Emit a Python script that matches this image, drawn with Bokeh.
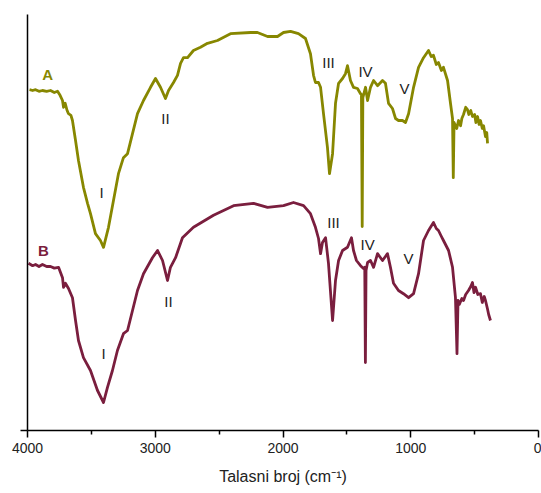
from bokeh.plotting import figure
from bokeh.models import Range1d, FixedTicker, Label
from bokeh.core.properties import value
from bokeh.embed import file_html
from bokeh.resources import INLINE

# Spectrum A (olive)
wn_a = [3984, 3960, 3937, 3910, 3883, 3850, 3820, 3790, 3765, 3745, 3726, 3718, 3705, 3690,
        3679, 3660, 3648, 3624, 3601, 3562, 3530, 3507, 3468, 3429, 3405, 3366, 3327, 3288,
        3249, 3217, 3178, 3139, 3092, 3037, 2998, 2959, 2920, 2896, 2857, 2826, 2802, 2779,
        2747, 2701, 2646, 2591, 2513, 2411, 2254, 2200, 2121, 2043, 1996, 1941, 1879, 1824,
        1785, 1761, 1746, 1722, 1706, 1683, 1652, 1636, 1612, 1589, 1565, 1534, 1511, 1495,
        1472, 1448, 1417, 1393, 1386, 1380, 1375, 1354, 1338, 1315, 1291, 1260, 1221, 1198,
        1174, 1143, 1119, 1096, 1065, 1041, 1017, 978, 939, 900, 861, 840, 822, 800, 783,
        760, 744, 712, 689, 673, 667, 661, 640, 626, 610, 600, 587, 570, 556, 545, 530, 517,
        500, 490, 477, 465, 454, 440, 430, 415, 405, 399]
t_a = [85.2, 85.0, 85.2, 84.8, 85.0, 84.8, 85.0, 84.5, 84.8, 83.8, 82.5, 80.8, 81.8, 80.0,
       79.2, 78.8, 77.5, 72.5, 67.5, 60.8, 56.8, 54.2, 49.2, 47.5, 45.8, 50.8, 57.5, 64.2,
       68.2, 69.2, 74.2, 79.2, 82.5, 85.8, 88.0, 85.8, 83.0, 85.0, 87.0, 88.8, 91.8, 93.2,
       93.2, 95.0, 95.8, 96.8, 97.5, 99.2, 99.5, 99.5, 98.5, 98.5, 99.5, 99.8, 99.2, 98.0,
       94.2, 88.8, 87.0, 87.0, 85.8, 79.2, 70.8, 64.2, 69.2, 81.8, 86.8, 88.0, 89.2, 91.2,
       87.5, 85.8, 85.5, 84.2, 84.0, 51.0, 83.2, 85.8, 82.5, 85.8, 87.5, 86.2, 87.5, 86.8,
       81.8, 80.5, 78.0, 77.5, 77.5, 77.0, 79.2, 85.8, 90.8, 93.2, 95.0, 93.5, 93.8, 91.5, 92.0,
       90.0, 90.8, 87.5, 81.8, 78.0, 63.2, 77.0, 75.5, 77.5, 76.2, 78.0, 79.0, 80.8, 80.2, 79.0,
       80.0, 78.5, 79.0, 77.0, 78.5, 76.5, 77.5, 75.5, 76.2, 73.5, 74.5, 71.8]

# Spectrum B (maroon)
wn_b = [3992, 3960, 3937, 3910, 3883, 3850, 3820, 3790, 3757, 3726, 3718, 3703, 3679, 3648,
        3624, 3601, 3562, 3507, 3452, 3405, 3374, 3335, 3296, 3249, 3217, 3178, 3139, 3092,
        3022, 2982, 2943, 2904, 2881, 2841, 2787, 2701, 2544, 2387, 2231, 2121, 1996, 1918,
        1839, 1785, 1746, 1722, 1706, 1691, 1667, 1644, 1612, 1589, 1565, 1534, 1495, 1464,
        1448, 1425, 1393, 1370, 1360, 1355, 1350, 1338, 1315, 1291, 1260, 1221, 1182, 1159,
        1135, 1096, 1057, 1017, 978, 939, 900, 861, 822, 800, 783, 760, 744, 704, 673, 650,
        638, 630, 620, 600, 587, 570, 548, 530, 517, 505, 493, 475, 454, 440, 425, 415, 400,
        390, 376]
t_b = [41.8, 41.2, 41.5, 41.0, 41.5, 41.0, 41.0, 40.6, 40.8, 38.2, 35.8, 36.8, 35.5, 33.2,
       27.5, 22.5, 18.2, 15.0, 10.0, 7.0, 10.8, 15.0, 20.0, 24.2, 25.0, 30.0, 35.0, 39.2,
       43.2, 45.0, 42.5, 37.5, 40.8, 43.2, 48.2, 50.8, 53.8, 56.2, 56.8, 55.8, 56.2, 57.0,
       56.2, 54.2, 50.8, 48.0, 44.2, 47.0, 48.2, 41.8, 27.5, 37.5, 42.5, 45.0, 45.8, 48.2,
       45.0, 42.5, 41.2, 40.5, 40.8, 17.0, 40.0, 42.0, 42.5, 40.8, 44.2, 42.5, 44.2, 40.8,
       36.8, 35.0, 34.2, 33.2, 34.2, 39.2, 47.5, 50.0, 52.0, 50.5, 50.0, 48.5, 47.5, 45.0,
       40.8, 33.2, 19.2, 32.5, 31.5, 33.0, 32.5, 34.0, 35.0, 36.0, 37.0, 34.5, 35.8, 34.0,
       34.2, 32.0, 33.5, 32.5, 30.5, 29.0, 27.5]

x_ticks = [4000, 3000, 2000, 1000, 0]
x_minor_ticks = [3500, 2500, 1500, 500]
y_ticks = [0]
x_title = "Talasni broj (cm\u207b\u00b9)"

# Series and band labels
series_names = ["A", "B"]
series_name_wn = [3843, 3875]
series_name_t = [89.0, 45.0]
band_text = ["I", "II", "III", "IV", "V", "I", "II", "III", "IV", "V"]
band_wn = [3421, 2920, 1644, 1354, 1049, 3405, 2896, 1605, 1338, 1017]
band_t = [59.5, 78.0, 92.0, 89.8, 85.5, 19.2, 32.2, 52.0, 46.5, 43.0]

COL_A = "#878700"
COL_B = "#7a1e3e"
FONT = "Liberation Sans"

p = figure(width=541, height=493, x_range=Range1d(4000, 0), y_range=Range1d(0, 104),
           output_backend="svg", toolbar_location=None,
           min_border_left=27, min_border_right=3, min_border_top=14, min_border_bottom=63)
p.outline_line_color = None
p.grid.visible = False
p.background_fill_color = "white"
p.border_fill_color = "white"

p.line(wn_a, t_a, line_color=COL_A, line_width=2.8, line_join="round")
p.line(wn_b, t_b, line_color=COL_B, line_width=2.8, line_join="round")

p.text(x=band_wn, y=band_t, text=band_text, text_font=value(FONT), text_font_size="15px",
       text_align="center", text_baseline="middle", text_color="#222222")
p.text(x=series_name_wn, y=series_name_t, text=series_names, text_font=value(FONT),
       text_font_size="15px", text_font_style="bold", text_align="center",
       text_baseline="middle", text_color=[COL_A, COL_B])

xa = p.xaxis[0]
xa.ticker = FixedTicker(ticks=x_ticks, minor_ticks=x_minor_ticks)
xa.axis_label = x_title
xa.axis_label_text_font = FONT
xa.axis_label_text_font_style = "normal"
xa.axis_label_text_font_size = "16px"
xa.axis_label_text_color = "#222222"
xa.axis_label_standoff = 12
xa.major_label_text_font = FONT
xa.major_label_text_font_size = "14px"
xa.major_label_text_color = "#222222"
xa.major_label_standoff = 5
xa.axis_line_width = 1.5
xa.major_tick_line_width = 1.5
xa.minor_tick_line_width = 1.5
xa.major_tick_out = 7
xa.major_tick_in = 0
xa.minor_tick_out = 4
xa.minor_tick_in = 0

ya = p.yaxis[0]
ya.ticker = FixedTicker(ticks=y_ticks, minor_ticks=[])
ya.major_label_overrides = {0: ""}
ya.major_label_text_font_size = "14px"
ya.major_label_standoff = 0
ya.axis_line_width = 1.5
ya.major_tick_line_width = 1.5
ya.major_tick_out = 7
ya.major_tick_in = 0

# the y tick label "0", partly cut off by the left edge as in the original
p.add_layout(Label(x=4000, y=y_ticks[0], x_offset=-24, text="0", text_font=FONT,
                   text_font_size="14px", text_align="right", text_baseline="middle",
                   text_color="#222222"))

open("out.html", "w").write(file_html(p, INLINE))
